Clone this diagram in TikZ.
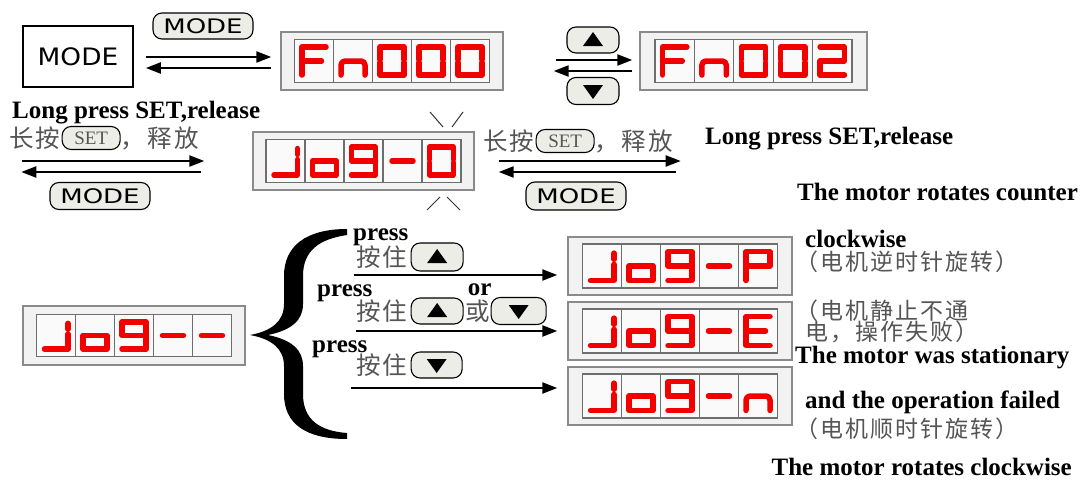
\documentclass[tikz,border=0pt]{standalone}
\usepackage{fontspec}
\usepackage{graphicx}
\setmainfont{Liberation Serif}
\newfontfamily\cjk{Noto Sans CJK SC}[LetterSpace=9]
\newfontfamily\sansf{DejaVu Sans}
\usetikzlibrary{arrows.meta,calc,positioning}
\definecolor{lcdred}{HTML}{F20000}
\definecolor{lcdbg}{HTML}{F2F2F2}
\definecolor{lcdedge}{HTML}{8A8A8A}
\definecolor{celledge}{HTML}{6E6E6E}
\definecolor{pillgray}{HTML}{EDEDE8}
\definecolor{cngray}{HTML}{555555}
\tikzset{
  seg/.style={draw=lcdred, line width=5.5pt, line cap=round, line join=round},
  lcdout/.style={draw=lcdedge, fill=lcdbg, line width=1.4pt, inner sep=0pt},
  lcdcell/.style={draw=celledge, fill=white!96!gray, line width=1.1pt},
  pill/.style={draw=black, fill=pillgray, line width=1.1pt, rounded corners=9pt, inner sep=0pt},
  arr/.style={line width=2.2pt, -{Triangle[length=15pt,width=11pt]}},
  en/.style={font=\fontsize{25}{28}\selectfont\bfseries, inner sep=0pt},
  cn/.style={font=\cjk\fontsize{23}{26}\selectfont, text=cngray, inner sep=0pt},
  cnbig/.style={font=\cjk\fontsize{24.5}{27}\selectfont, text=cngray, inner sep=0pt},
  modetxt/.style={font=\sansf\fontsize{20}{22}\selectfont},
  settxt/.style={font=\fontsize{19}{21}\selectfont, text=cngray},
  blink/.style={draw=black!80, line width=1pt}
}
\newcommand\dgF{\draw[seg] (26.5,2.5)--(2.5,2.5)--(2.5,30.5); \draw[seg] (2.5,16.5)--(22,16.5);}
\newcommand\dgn{\draw[seg,rounded corners=4pt] (2.5,30.5)--(2.5,16.5)--(26.5,16.5)--(26.5,30.5);}
\newcommand\dgO{\draw[seg] (2.5,15)--(2.5,2.5)--(26.5,2.5)--(26.5,15); \draw[seg] (2.5,18)--(2.5,30.5)--(26.5,30.5)--(26.5,18);}
\newcommand\dgT{\draw[seg] (2.5,2.5)--(26.5,2.5)--(26.5,16.5)--(2.5,16.5)--(2.5,30.5)--(26.5,30.5);}
\newcommand\dgJ{\draw[seg] (26.5,4)--(26.5,10); \draw[seg] (3,30.5)--(26.5,30.5)--(26.5,15);}
\newcommand\dgo{\draw[seg] (2.5,16.5) rectangle (26.5,30.5);}
\newcommand\dgN{\draw[seg] (26.5,16.5)--(2.5,16.5)--(2.5,2.5)--(26.5,2.5)--(26.5,30.5)--(2.5,30.5);}
\newcommand\dgD{\draw[seg] (4,16.5)--(25,16.5);}
\newcommand\dgP{\draw[seg] (2.5,30.5)--(2.5,2.5)--(26.5,2.5)--(26.5,16.5)--(2.5,16.5);}
\newcommand\dgE{\draw[seg] (26.5,2.5)--(2.5,2.5)--(2.5,30.5)--(26.5,30.5); \draw[seg] (2.5,16.5)--(22,16.5);}
% name, cx, cy, outer w, outer h, inner w, inner h, glyphs
\newcommand\lcd[8]{%
  \node[lcdout, minimum width=#4, minimum height=#5] (#1) at (#2,#3) {};
  \pgfmathsetmacro\lcdcw{#6/5}%
  \pgfmathsetmacro\lcdx{#2-#6/2}%
  \pgfmathsetmacro\lcdy{#3-#7/2}%
  \pgfmathsetmacro\lcdsx{(\lcdcw-10)/29}%
  \pgfmathsetmacro\lcdsy{(#7-10)/33}%
  \foreach \g [count=\i from 0] in {#8} {
    \draw[lcdcell] (\lcdx+\i*\lcdcw, \lcdy) rectangle ++(\lcdcw, #7);
    \begin{scope}[shift={(\lcdx+\i*\lcdcw+5, \lcdy+5)}, xscale=\lcdsx, yscale=\lcdsy]
      \g
    \end{scope}
  }
}
\newcommand\uptri[1]{\fill ($(#1.center)+(-10,6)$) -- ++(20,0) -- ++(-10,-14) -- cycle;}
\newcommand\dntri[1]{\fill ($(#1.center)+(-10,-6)$) -- ++(20,0) -- ++(-10,14) -- cycle;}
\begin{document}
\begin{tikzpicture}[x=1pt,y=-1pt]
\useasboundingbox[fill=white] (0,0) rectangle (1088,482);

% ---- top row
\node[draw=black, line width=1.6pt, minimum width=110, minimum height=61, inner sep=0pt, font=\sansf\fontsize{24}{26}\selectfont] (modebox) at (78,56.5) {\scalebox{1.1}[1]{MODE}};
\node[pill, minimum width=100, minimum height=26, modetxt] (mp1) at (203,26) {\scalebox{1.3}[1]{MODE}};
\lcd{fn000}{392}{61}{222}{58}{195}{43}{\dgF,\dgn,\dgO,\dgO,\dgO}
\lcd{fn002}{753.5}{61}{227}{58}{197}{43}{\dgF,\dgn,\dgO,\dgO,\dgT}
\draw[arr] ($(modebox.east)+(12,0.5)$) -- ($(fn000.west)+(-9,-4)$);
\draw[arr] ($(fn000.west)+(-9,7)$) -- ($(modebox.east)+(12,11.5)$);

\node[pill, minimum width=52, minimum height=26] (up1) at (593,40) {};
\uptri{up1}
\node[pill, minimum width=52, minimum height=27] (dn1) at (593,91) {};
\dntri{dn1}
\draw[arr] ($(fn000.east)+(52,-1)$) -- ($(fn002.west)+(-7,-1)$);
\draw[arr] ($(fn002.west)+(-7,10)$) -- ($(fn000.east)+(50,10)$);

% ---- middle row
\lcd{jog0}{363.5}{161}{221}{58}{195}{43}{\dgJ,\dgo,\dgN,\dgD,\dgO}
\node[en, anchor=base west] (lp1) at (12,118) {Long press SET,release};
\node[cnbig, anchor=west] (cnL1) at (9,138) {长按};
\node[pill, minimum width=58, minimum height=23, settxt, right=1pt of cnL1] (setL) {SET};
\node[cnbig, anchor=west] (cnL2) at (setL.east) {，释放};
\draw[arr] ($(jog0.west)+(-230,0)$) -- ($(jog0.west)+(-48,0)$);
\draw[arr] ($(jog0.west)+(-51,11)$) -- ($(jog0.west)+(-231,11)$);
\node[pill, minimum width=100, minimum height=27, modetxt] (mp2) at (100,196) {\scalebox{1.3}[1]{MODE}};

\node[cnbig, anchor=west] (cnR1) at (483,141) {长按};
\node[pill, minimum width=58, minimum height=23, settxt, right=1pt of cnR1] (setR) {SET};
\node[cnbig, anchor=west] (cnR2) at (setR.east) {，释放};
\draw[arr] ($(jog0.east)+(24,0)$) -- ($(jog0.east)+(206,0)$);
\draw[arr] ($(jog0.east)+(201,11)$) -- ($(jog0.east)+(24,11)$);
\node[pill, minimum width=100, minimum height=28, modetxt] (mp3) at (576,196) {\scalebox{1.3}[1]{MODE}};
\node[en, anchor=base west] (lp2) at (705,144) {Long press SET,release};
\node[en, anchor=base west] (ccw1) at (797,200) {The motor rotates counter};

\draw[blink] (430,112) -- (443,127);
\draw[blink] (463,112) -- (452,127);
\draw[blink] (427,210) -- (440,197);
\draw[blink] (460,210) -- (447,197);

% ---- bottom
\lcd{jogd}{134}{335.5}{222}{59}{195}{42}{\dgJ,\dgo,\dgN,\dgD,\dgD}
\lcd{jogP}{680}{266}{224}{58}{195}{44}{\dgJ,\dgo,\dgN,\dgD,\dgP}
\lcd{jogE}{680}{331}{224}{58}{195}{44}{\dgJ,\dgo,\dgN,\dgD,\dgE}
\lcd{jogN}{680}{396}{224}{58}{195}{44}{\dgJ,\dgo,\dgN,\dgD,\dgn}

\fill (347,229) .. controls (306,229) and (284,246) .. (284,276) -- (284,304)
  .. controls (284,321) and (272,331) .. (250,335)
  .. controls (272,339) and (284,349) .. (284,366) -- (284,394)
  .. controls (284,424) and (306,439) .. (347,439) -- (347,433)
  .. controls (320,431) and (303,420) .. (303,394) -- (303,366)
  .. controls (303,350) and (292,340) .. (268,335)
  .. controls (292,330) and (303,320) .. (303,304) -- (303,276)
  .. controls (303,250) and (320,239) .. (347,235) -- cycle;

\node[en, anchor=base west] (pr1) at (353,240) {press};
\node[cnbig, anchor=west] (cnA1) at (356,257) {按住};
\node[pill, minimum width=52, minimum height=28, right=3pt of cnA1] (up2) {};
\uptri{up2}
\draw[arr] ($(jogd.east)+(108,-60.5)$) -- ($(jogP.west)+(-10,9)$);

\node[en, anchor=base west] (pr2) at (317,296) {press};
\node[cnbig, anchor=west] (cnA2) at (356,311) {按住};
\node[pill, minimum width=52, minimum height=26, right=3pt of cnA2] (up3) {};
\uptri{up3}
\node[cnbig, anchor=west, right=2pt of up3] (huo) {或};
\node[en, anchor=base west] (or1) at ($(huo.west)+(2,-16)$) {or};
\node[pill, minimum width=55, minimum height=27, right=0pt of huo] (dn3) {};
\dntri{dn3}
\draw[arr] ($(jogd.east)+(110,-4.5)$) -- ($(jogE.west)+(-10,0)$);

\node[en, anchor=base west] (pr3) at (312,352) {press};
\node[cnbig, anchor=west] (cnA3) at (356,365) {按住};
\node[pill, minimum width=51, minimum height=26, right=3pt of cnA3] (dn4) {};
\dntri{dn4}
\draw[arr] ($(jogd.east)+(105,52.5)$) -- ($(jogN.west)+(-10,-8)$);

\node[en, anchor=base west] (t1) at (805,247) {clockwise};
\node[cn, anchor=west] (t2) at (795,262) {（电机逆时针旋转）};
\node[cn, anchor=west] (t3) at (795,311) {（电机静止不通};
\node[cn, anchor=west] (t4) at (805,332) {电，操作失败）};
\node[en, anchor=base west] (t5) at (795,363) {The motor was stationary};
\node[en, anchor=base west] (t6) at (805,408) {and the operation failed};
\node[cn, anchor=west] (t7) at (795,429) {（电机顺时针旋转）};
\node[en, anchor=base east] (t8) at (1072,475) {The motor rotates clockwise};
\end{tikzpicture}
\end{document}
